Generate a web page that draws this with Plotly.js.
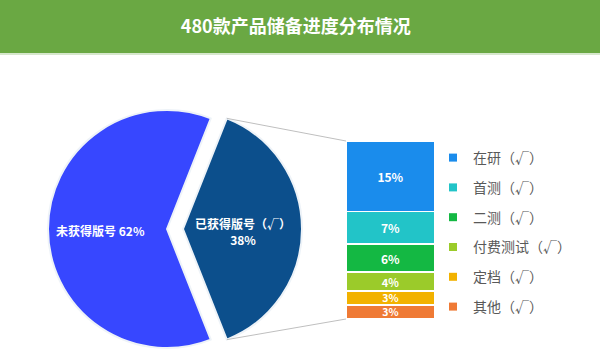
<!DOCTYPE html>
<html>
<head>
<meta charset="utf-8">
<script src="https://cdn.plot.ly/plotly-3.0.1.min.js"></script>
<style>html,body{margin:0;padding:0;background:#fff;}#chart{width:600px;height:362px;}</style>
</head>
<body>
<div id="chart"></div>
<script>
// ---- data ----
var titleText = '480款产品储备进度分布情况';
var pieLabels = ['已获得版号（√）', '未获得版号'];
var pieValues = [38, 62];
var pieColors = ['#0c4f8c', '#3747ff'];
var barLabels = ['在研（√）', '首测（√）', '二测（√）', '付费测试（√）', '定档（√）', '其他（√）'];
var barValues = [15, 7, 6, 4, 3, 3];
var barColors = ['#1a8cec', '#22c4c8', '#14b843', '#9bcb2a', '#f2b200', '#ef7a35'];

// ---- geometry (pixels) ----
var W = 600, H = 362;
var R = 119, cy = 229, cxMain = 167, pullPx = 16;
var barL = 346, barR = 435, barT = 141, barB = 319;
function px(x){return x / W;}
function py(y){return (H - y) / H;}

var FONT = '"Noto Sans CJK SC", "Noto Sans", sans-serif';
var transparent = 'rgba(0,0,0,0)';

// pie: the first slice is centred on 3 o'clock
var total = pieValues[0] + pieValues[1];
var barTotal = barValues.reduce(function(a, b){ return a + b; }, 0);
var halfDeg = pieValues[0] / total * 180;
var rotation = 90 - halfDeg;

function pieTrace(cx, visibleIdx) {
  var colors = pieColors.map(function(c, i){ return i === visibleIdx ? c : transparent; });
  var widths = pieColors.map(function(c, i){ return i === visibleIdx ? 2 : 0; });
  return {
    type: 'pie', labels: pieLabels, values: pieValues, sort: false,
    direction: 'clockwise', rotation: rotation,
    marker: {colors: colors, line: {color: '#eef3f8', width: widths}},
    textinfo: 'none', hoverinfo: 'none', showlegend: false,
    domain: {x: [px(cx - R), px(cx + R)], y: [py(cy + R), py(cy - R)]}
  };
}

var traces = [pieTrace(cxMain, 1), pieTrace(cxMain + pullPx, 0)];

// stacked bar: bottom segment first
for (var i = barValues.length - 1; i >= 0; i--) {
  var fs = barValues[i] >= 5 ? 12 : (barValues[i] >= 4 ? 11 : 10.5);
  traces.push({
    type: 'bar', x: [0], y: [barValues[i]], width: [1],
    marker: {color: barColors[i], line: {color: '#ffffff', width: 1.5}},
    text: [barValues[i] + '%'], textposition: 'inside', insidetextanchor: 'middle',
    constraintext: 'none',
    textfont: {color: '#ffffff', size: fs, family: FONT, weight: 'bold'},
    hoverinfo: 'none', showlegend: false, xaxis: 'x', yaxis: 'y'
  });
}
// legend entries (top to bottom)
for (var j = 0; j < barLabels.length; j++) {
  traces.push({
    type: 'scatter', mode: 'markers', x: [null], y: [null], name: barLabels[j],
    marker: {symbol: 'square', size: 8, color: barColors[j]},
    legendgroup: 'g' + j, showlegend: true, hoverinfo: 'none', xaxis: 'x', yaxis: 'y'
  });
}

// connector lines from the pulled slice to the bar
var rad = halfDeg * Math.PI / 180;
var cxPull = cxMain + pullPx;
var topPt = [cxPull + R * Math.cos(rad), cy - R * Math.sin(rad)];
var botPt = [cxPull + R * Math.cos(rad), cy + R * Math.sin(rad)];

var layout = {
  width: W, height: H,
  margin: {l: 0, r: 0, t: 0, b: 0},
  paper_bgcolor: '#ffffff', plot_bgcolor: 'rgba(0,0,0,0)',
  title: {text: titleText, x: 0.493, xanchor: 'center', y: py(27), yanchor: 'middle',
          font: {family: FONT, size: 18, color: '#ffffff', weight: 'bold'}},
  barmode: 'stack', bargap: 0,
  xaxis: {domain: [px(barL), px(barR)], range: [-0.5, 0.5], visible: false, fixedrange: true},
  yaxis: {domain: [py(barB), py(barT)], range: [0, barTotal], visible: false, fixedrange: true},
  showlegend: true,
  legend: {x: px(433), xanchor: 'left', y: py(142), yanchor: 'top',
           traceorder: 'grouped', tracegroupgap: 8.6,
           font: {family: FONT, size: 14, color: '#595959'}, bgcolor: 'rgba(0,0,0,0)'},
  shapes: [
    {type: 'rect', xref: 'paper', yref: 'paper', x0: 0, x1: 1, y0: py(53), y1: 1,
     fillcolor: '#6aa843', line: {width: 0}, layer: 'below'},
    {type: 'line', xref: 'paper', yref: 'paper', x0: 0, x1: 1, y0: py(54), y1: py(54),
     line: {color: '#c9dfbb', width: 1.5}},
    {type: 'line', xref: 'paper', yref: 'paper', x0: px(topPt[0]), y0: py(topPt[1]), x1: px(barL), y1: py(barT),
     line: {color: '#bfbfbf', width: 1}},
    {type: 'line', xref: 'paper', yref: 'paper', x0: px(botPt[0]), y0: py(botPt[1]), x1: px(barL), y1: py(barB),
     line: {color: '#bfbfbf', width: 1}}
  ],
  annotations: [
    {xref: 'paper', yref: 'paper', x: px(100), y: py(230), xanchor: 'center', yanchor: 'middle', showarrow: false,
     text: pieLabels[1] + ' ' + pieValues[1] + '%',
     font: {family: FONT, size: 12, color: '#ffffff', weight: 'bold'}},
    {xref: 'paper', yref: 'paper', x: px(243), y: py(231), xanchor: 'center', yanchor: 'middle', showarrow: false,
     text: pieLabels[0] + '<br>' + pieValues[0] + '%',
     font: {family: FONT, size: 12, color: '#ffffff', weight: 'bold'}}
  ]
};

Plotly.newPlot('chart', traces, layout, {displayModeBar: false, staticPlot: true});
</script>
</body>
</html>
